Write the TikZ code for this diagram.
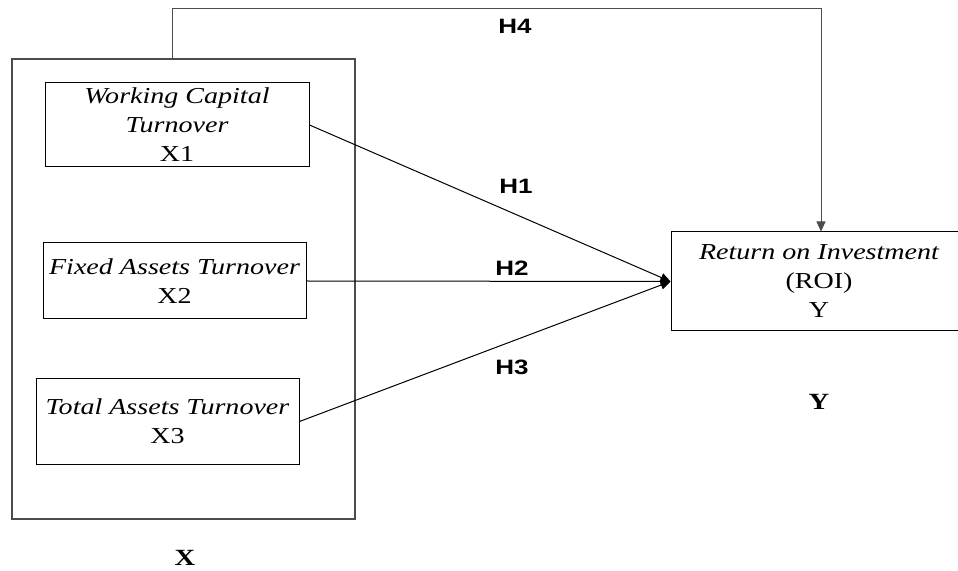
\documentclass[tikz,border=0pt]{standalone}
\usepackage{fontspec}
\setmainfont{Liberation Serif}[FakeStretch=1.23]
\setsansfont{Liberation Sans}[FakeStretch=1.25]
\usepackage{tikz}
\usetikzlibrary{arrows.meta}

\tikzset{
  varbox/.style={shape=rectangle,draw=black,line width=0.5pt,align=center,inner sep=0pt,
    font=\fontsize{11.4}{14.5}\selectfont},
  groupbox/.style={shape=rectangle,draw=black!70,line width=0.6pt,inner sep=0pt},
  hyp/.style={font=\sffamily\bfseries\fontsize{10.4}{12}\selectfont},
  grouplab/.style={font=\bfseries\fontsize{11.6}{13}\selectfont},
  conn/.style={draw=black,line width=0.5pt,-{Triangle[length=5pt,width=4.5pt]}}
}

\begin{document}
\begin{tikzpicture}[x=0.5pt,y=-0.5pt]
\useasboundingbox (0,0) rectangle (958,571);
\clip (0,0) rectangle (958,571);
\node[groupbox,minimum width=171.5pt,minimum height=230pt] (xgroup) at (183.5,289) {};
\node[varbox,minimum width=132pt,minimum height=42pt] (x1) at (177,125) {\itshape Working Capital\\\itshape Turnover\\X1};
\node[varbox,minimum width=131.5pt,minimum height=38pt] (x2) at (174.5,281) {\itshape Fixed Assets Turnover\\X2};
\node[varbox,minimum width=131.5pt,minimum height=42.5pt] (x3) at (167.5,421.5) {\itshape Total Assets Turnover\\X3};
\node[varbox,minimum width=148pt,minimum height=49.5pt] (roi) at (819,281.5) {\itshape Return on Investment\\(ROI)\\Y};
\node[grouplab] (xlab) at (185,558) {X};
\node[grouplab] (ylab) at (819,402) {Y};
\node[hyp] (h4lab) at (515,26) {H4};
\node[hyp] (h1lab) at (516,186) {H1};
\node[hyp] (h2lab) at (512,268) {H2};
\node[hyp] (h3lab) at (512,367) {H3};
\coordinate (h4start) at (172,59);
\coordinate (h4turn) at (821,9);
\path [] (x1.east) edge[conn] (roi.west);
\path [] (x2.east) edge[conn] (roi.west);
\path [] (x3.east) edge[conn] (roi.west);
\draw [conn,draw=black!70] (h4start) |- (h4turn) -- (h4turn |- roi.north);
\end{tikzpicture}
\end{document}
